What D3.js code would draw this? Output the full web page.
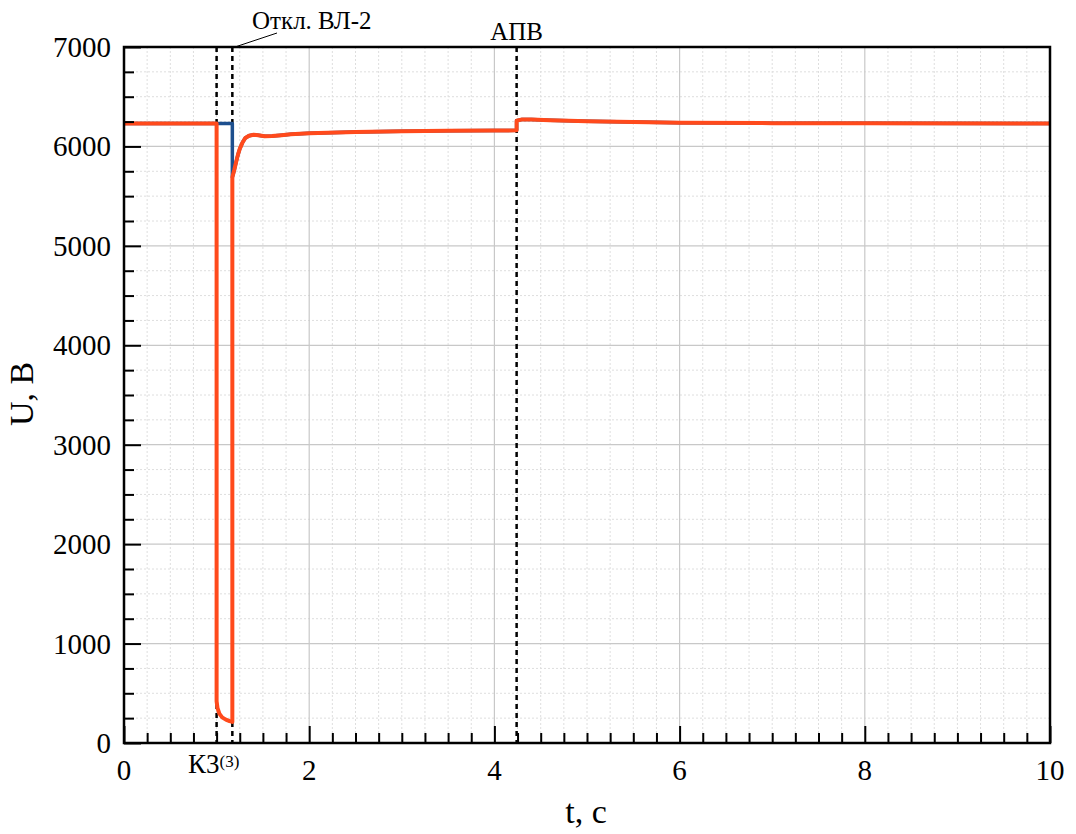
<!DOCTYPE html>
<html>
<head>
<meta charset="utf-8">
<script src="https://cdn.jsdelivr.net/npm/d3@7"></script>
<style>
  html, body { margin: 0; padding: 0; background: #fff; }
</style>
</head>
<body>
<svg id="chart" width="1076" height="834"></svg>
<script>
// Voltage on the bus, U (V) versus time t (s)
// Common part before the disturbance / during the fault
const tFaultRed = [0, 1.0, 1.0, 1.01, 1.03, 1.06, 1.10, 1.14, 1.17];
const uFaultRed = [6230, 6230, 420, 350, 295, 258, 235, 220, 212];
const tFaultBlue = [0, 1.17];
const uFaultBlue = [6230, 6230];

// After the line is switched off (both curves coincide)
const tAfter = [1.17, 1.19, 1.21, 1.23, 1.25, 1.28, 1.31, 1.35, 1.40, 1.45, 1.52, 1.60, 1.70, 1.80, 2.0, 2.5, 3.0, 3.5, 4.0, 4.24,
                4.24, 4.30, 4.40, 4.60, 5.0, 5.5, 6.0, 7.0, 8.0, 10.0];
const uAfter = [5690, 5760, 5840, 5915, 5975, 6040, 6085, 6108, 6118, 6112, 6102, 6104, 6112, 6122, 6133, 6145, 6152, 6157, 6160, 6162,
                6258, 6272, 6272, 6264, 6253, 6245, 6239, 6234, 6232, 6230];

// Event markers
const eventTimes = [1.0, 1.17, 4.24];

// Axis ticks
const xTickLabels = [0, 2, 4, 6, 8, 10];
const yTickLabels = [0, 1000, 2000, 3000, 4000, 5000, 6000, 7000];

const serif = "'Liberation Serif', 'Times New Roman', 'DejaVu Serif', serif";
const svg = d3.select("#chart").style("font-family", serif);
const plotLeft = 124, plotRight = 1050, plotTop = 47, plotBottom = 743;

const x = d3.scaleLinear().domain([0, 10]).range([plotLeft, plotRight]);
const y = d3.scaleLinear().domain([0, 7000]).range([plotBottom, plotTop]);

const xMinor = d3.range(0, 10.001, 0.25);
const yMinor = d3.range(0, 7000.1, 250);

// Minor grid
const grid = svg.append("g");
grid.selectAll(".vmin").data(xMinor.filter(d => d % 2 !== 0)).join("line")
  .attr("x1", d => x(d)).attr("x2", d => x(d)).attr("y1", plotTop).attr("y2", plotBottom)
  .attr("stroke", "#dedede").attr("stroke-width", 1).attr("stroke-dasharray", "2,2");
grid.selectAll(".hmin").data(yMinor.filter(d => d % 1000 !== 0)).join("line")
  .attr("x1", plotLeft).attr("x2", plotRight).attr("y1", d => y(d)).attr("y2", d => y(d))
  .attr("stroke", "#dedede").attr("stroke-width", 1).attr("stroke-dasharray", "2,2");
// Major grid
grid.selectAll(".vmaj").data(xTickLabels.slice(1, -1)).join("line")
  .attr("x1", d => x(d)).attr("x2", d => x(d)).attr("y1", plotTop).attr("y2", plotBottom)
  .attr("stroke", "#c8c8c8").attr("stroke-width", 1.2);
grid.selectAll(".hmaj").data(yTickLabels.slice(1, -1)).join("line")
  .attr("x1", plotLeft).attr("x2", plotRight).attr("y1", d => y(d)).attr("y2", d => y(d))
  .attr("stroke", "#c8c8c8").attr("stroke-width", 1.2);

// Event dashed lines
svg.append("g").selectAll("line").data(eventTimes).join("line")
  .attr("x1", d => x(d)).attr("x2", d => x(d)).attr("y1", plotTop).attr("y2", plotBottom)
  .attr("stroke", "#000").attr("stroke-width", 2.5).attr("stroke-dasharray", "5,4");

// Curves
const line = d3.line().x(d => x(d[0])).y(d => y(d[1]));
const blue = tFaultBlue.map((t, i) => [t, uFaultBlue[i]]).concat(tAfter.map((t, i) => [t, uAfter[i]]));
const red = tFaultRed.map((t, i) => [t, uFaultRed[i]]).concat(tAfter.map((t, i) => [t, uAfter[i]]));

svg.append("path").datum(blue).attr("d", line)
  .attr("fill", "none").attr("stroke", "#1d4f8e").attr("stroke-width", 3.5).attr("stroke-linejoin", "round");
svg.append("path").datum(red).attr("d", line)
  .attr("fill", "none").attr("stroke", "#ff4a1c").attr("stroke-width", 4).attr("stroke-linejoin", "round");

// Frame
svg.append("rect").attr("x", plotLeft).attr("y", plotTop)
  .attr("width", plotRight - plotLeft).attr("height", plotBottom - plotTop)
  .attr("fill", "none").attr("stroke", "#000").attr("stroke-width", 2.5);

// Inward ticks on left and bottom
const xAxis = d3.axisBottom(x).tickValues(xMinor).tickSize(-10).tickFormat("");
const gx = svg.append("g").attr("transform", `translate(0,${plotBottom})`).call(xAxis);
gx.select(".domain").remove();
gx.selectAll(".tick line").attr("stroke", "#000").attr("stroke-width", 2)
  .attr("y2", d => (d % 2 === 0 ? -17 : -10));

const yAxis = d3.axisLeft(y).tickValues(yMinor).tickSize(-10).tickFormat("");
const gy = svg.append("g").attr("transform", `translate(${plotLeft},0)`).call(yAxis);
gy.select(".domain").remove();
gy.selectAll(".tick line").attr("stroke", "#000").attr("stroke-width", 2)
  .attr("x2", d => (d % 1000 === 0 ? 17 : 10));

// All text in serif
const txt = svg.append("g").style("font-family", serif).attr("fill", "#000");

// Tick labels
txt.append("g").selectAll("text").data(xTickLabels).join("text")
  .attr("x", d => x(d)).attr("y", 780).attr("text-anchor", "middle")
  .style("font-family", serif).attr("font-size", 29).text(d => d);
txt.append("g").selectAll("text").data(yTickLabels).join("text")
  .attr("x", 111).attr("y", d => y(d) + 10).attr("text-anchor", "end")
  .style("font-family", serif).attr("font-size", 29).text(d => d);

// Fault label under the axis
const kz = txt.append("text").attr("x", 188).attr("y", 773)
  .style("font-family", serif).attr("font-size", 27);
kz.append("tspan").text("К3");
kz.append("tspan").attr("font-size", 17).attr("dy", -6).text("(3)");

// Event annotations
txt.append("line").attr("x1", 235).attr("y1", 47).attr("x2", 277).attr("y2", 33)
  .attr("stroke", "#000").attr("stroke-width", 1);
txt.append("text").attr("x", 252).attr("y", 29).style("font-family", serif)
  .attr("font-size", 25).text("Откл. ВЛ-2");
txt.append("text").attr("x", x(eventTimes[2])).attr("y", 40).attr("text-anchor", "middle")
  .style("font-family", serif).attr("font-size", 25).text("АПВ");

// Axis titles
txt.append("text").attr("x", 586).attr("y", 823).attr("text-anchor", "middle")
  .style("font-family", serif).attr("font-size", 34).text("t, с");
txt.append("text").attr("transform", "translate(33,394) rotate(-90)").attr("text-anchor", "middle")
  .style("font-family", serif).attr("font-size", 34).text("U, В");
</script>
</body>
</html>
